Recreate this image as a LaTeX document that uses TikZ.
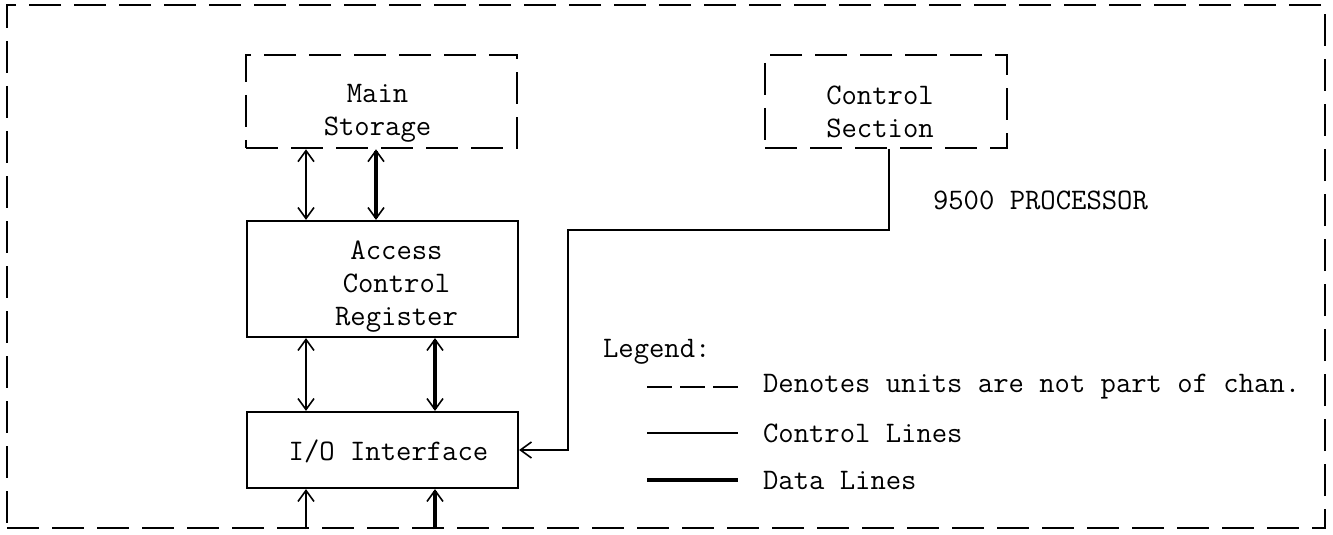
\documentclass[tikz,border=0pt]{standalone}
\usepackage{fontspec}
\usetikzlibrary{arrows.meta}
\tikzset{
  unit/.style={draw, line width=1.3pt, dash pattern=on 16pt off 6.5pt},
  box/.style={draw, line width=1.1pt},
  ctrl/.style={line width=0.6pt},
  data/.style={line width=1.6pt},
}
\begin{document}
\begin{tikzpicture}[x=0.5pt, y=-0.5pt,
  >={Straight Barb[length=5.5pt,width=8pt,line width=0.8pt]},
  font={\ttfamily\fontsize{14.9}{16.5}\selectfont}, align=center]
\useasboundingbox (0,0) rectangle (1333,535);
\node[unit, minimum width=659pt, minimum height=261.5pt] (proc) at (666,266.5) {};
\node[unit, minimum width=135.5pt, minimum height=46.5pt] (ms) at (381.5,101.5) {};
\node[unit, minimum width=121pt, minimum height=46.5pt] (cs) at (886,101.5) {};
\node[box, minimum width=135.5pt, minimum height=58pt] (acr) at (382.5,279) {};
\node[box, minimum width=135.5pt, minimum height=38pt] (io) at (382.5,450) {};
\node (msT) at ([shift={(-4,12)}]ms.center) {Main\\Storage};
\node (csT) at ([shift={(-6,10)}]cs.center) {Control\\Section};
\node (acrT) at ([shift={(14,8)}]acr.center) {Access\\Control\\Register};
\node (ioT) at ([shift={(6,1)}]io.center) {I/O Interface};
\node[anchor=west] (name) at (926,200) {9500 PROCESSOR};
% line columns
\coordinate (c1) at (306,0);
\coordinate (c2) at (376,0);
\coordinate (c3) at (435,0);
\coordinate (bend) at (568,230);
\draw[ctrl,<->] (ms.south -| c1) -- (acr.north -| c1);
\draw[data,<->] (ms.south -| c2) -- (acr.north -| c2);
\draw[ctrl,<->] (acr.south -| c1) -- (io.north -| c1);
\draw[data,<->] (acr.south -| c3) -- (io.north -| c3);
\draw[ctrl,->] (proc.south -| c1) -- (io.south -| c1);
\draw[data,->] (proc.south -| c3) -- (io.south -| c3);
\draw[ctrl,->] ([xshift=1.5pt]cs.south) |- (bend) |- (io.east);
% legend
\node[anchor=west] (leg) at (596,352) {Legend:};
\node[anchor=west] (k1) at (756,387) {Denotes units are not part of chan.};
\node[anchor=west] (k2) at (756,433) {Control Lines};
\node[anchor=west] (k3) at (756,480) {Data Lines};
\draw[line width=1.3pt, dash pattern=on 12.5pt off 4pt] ([xshift=-54.5pt]k1.west) -- ([xshift=-9pt]k1.west);
\draw[ctrl] ([xshift=-54.5pt]k2.west) -- ([xshift=-9pt]k2.west);
\draw[line width=2.2pt] ([xshift=-54.5pt]k3.west) -- ([xshift=-9pt]k3.west);
\end{tikzpicture}
\end{document}
